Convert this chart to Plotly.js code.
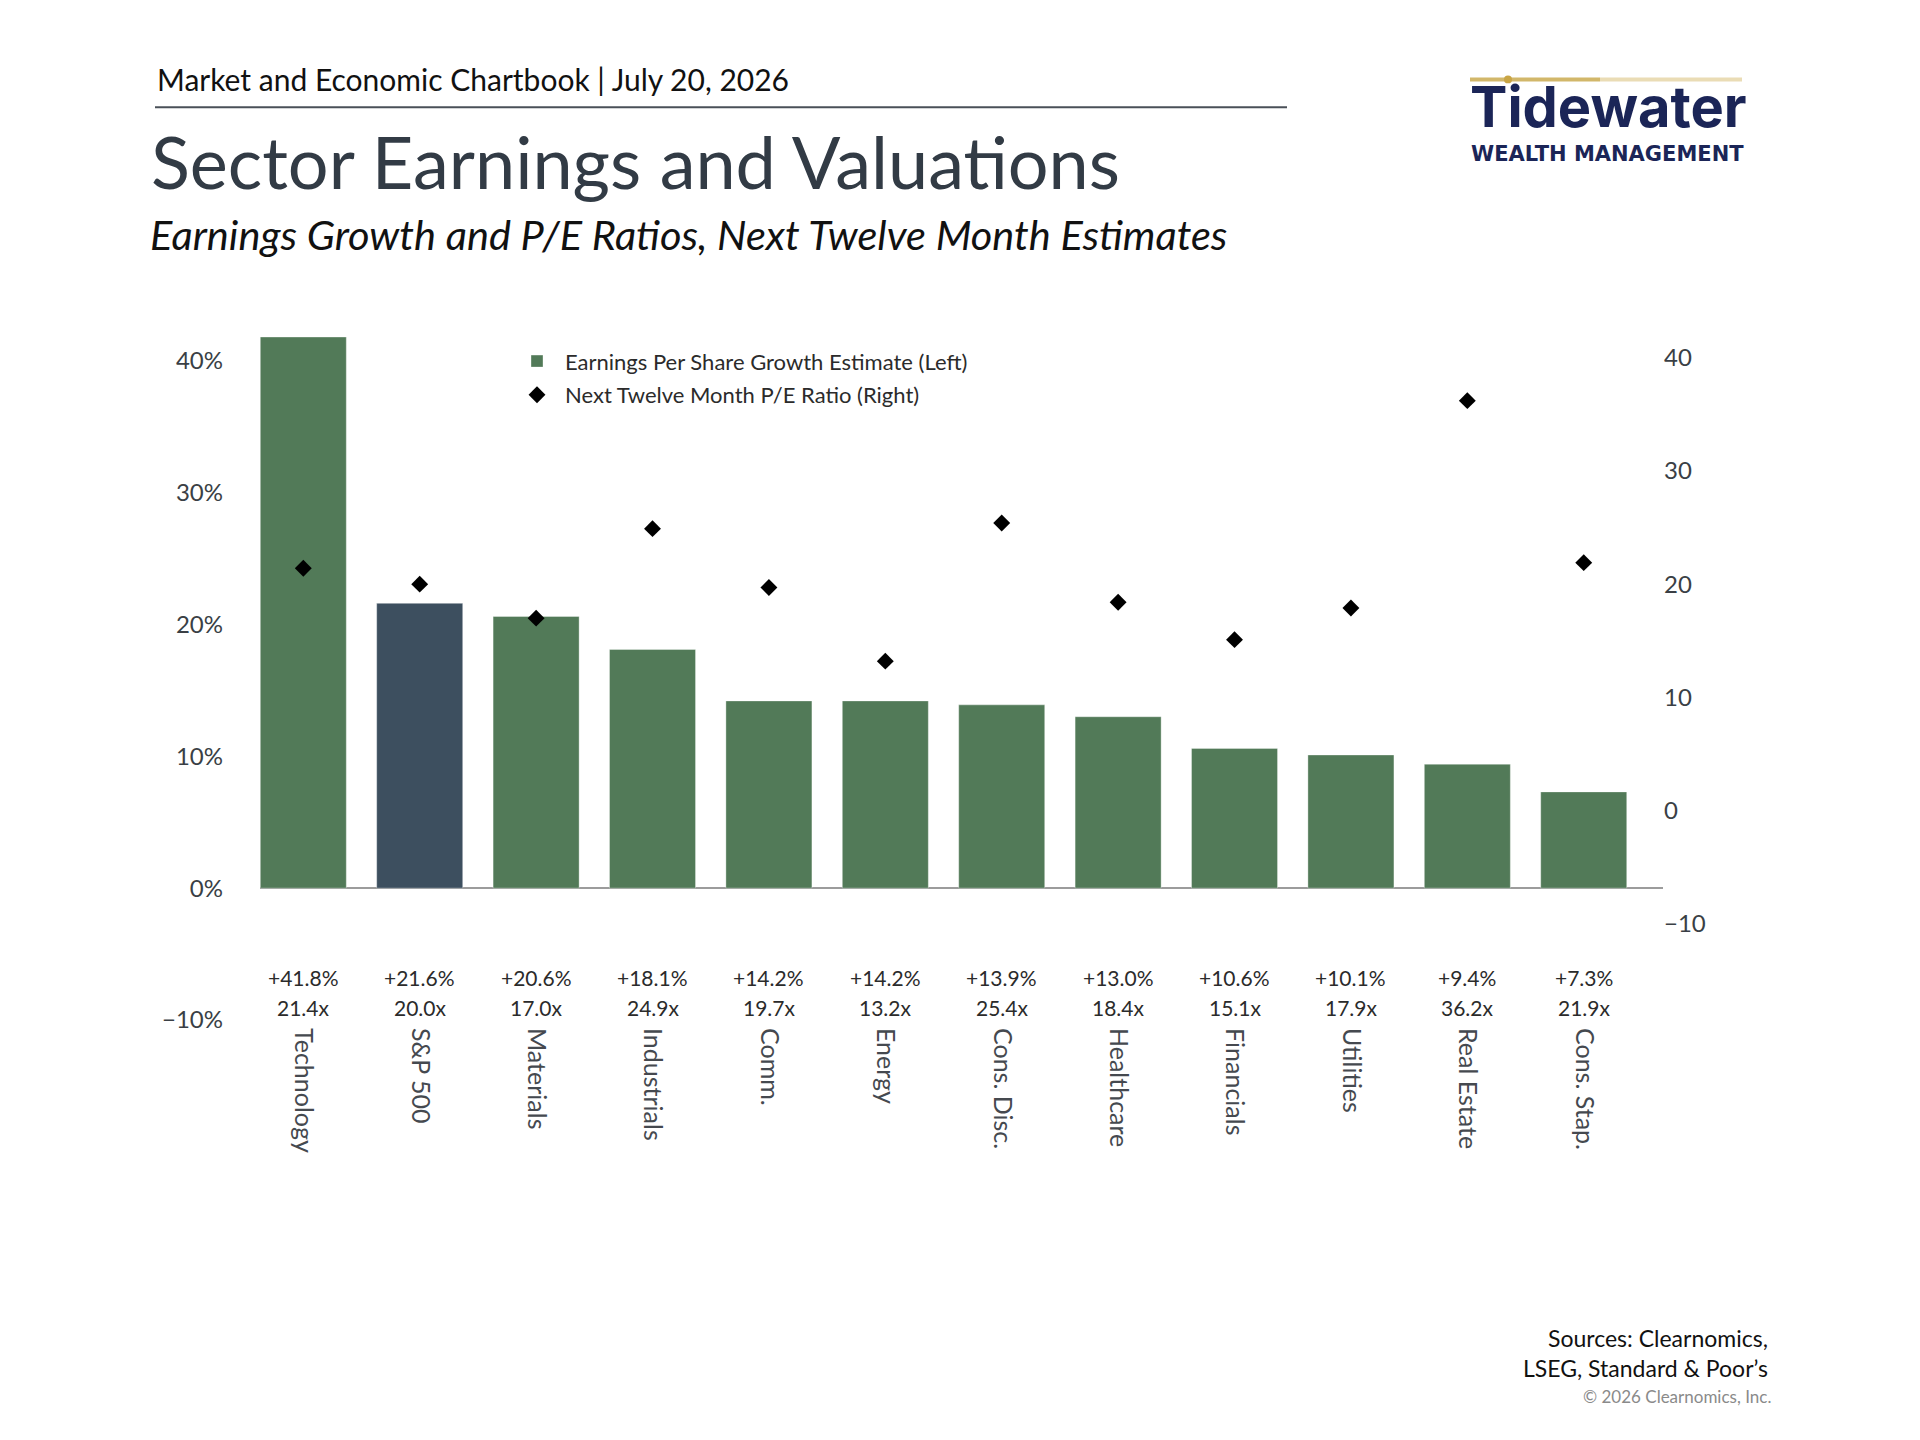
<!DOCTYPE html>
<html>
<head>
<meta charset="utf-8">
<script src="https://cdn.plot.ly/plotly-3.0.1.min.js"></script>
<style>
  html, body { margin: 0; padding: 0; background: #ffffff; }
  #chart { width: 1920px; height: 1440px; }
</style>
</head>
<body>
<div id="chart"></div>
<script>
// ---- Data ----
const categories = ["Technology", "S&P 500", "Materials", "Industrials", "Comm.", "Energy",
                    "Cons. Disc.", "Healthcare", "Financials", "Utilities", "Real Estate", "Cons. Stap."];
const epsGrowth = [41.8, 21.6, 20.6, 18.1, 14.2, 14.2, 13.9, 13.0, 10.6, 10.1, 9.4, 7.3];
const peRatio   = [21.4, 20.0, 17.0, 24.9, 19.7, 13.2, 25.4, 18.4, 15.1, 17.9, 36.2, 21.9];
const highlightCategory = "S&P 500";
const leftTicks  = [-10, 0, 10, 20, 30, 40];
const rightTicks = [-10, 0, 10, 20, 30, 40];

// ---- Layout geometry (pixels) ----
const L = 260, R = 1663, T = 337.2, B = 1020.4;
const W = R - L, H = B - T;
const px = x => (x - L) / W;
const py = y => (B - y) / H;

const GREEN = "#527a58", SLATE = "#3d4f5f";
const FONT = "Lato, 'Noto Sans', sans-serif";

const barColors = categories.map(c => c === highlightCategory ? SLATE : GREEN);

const traces = [
  {
    type: "bar",
    name: "Earnings Per Share Growth Estimate (Left)",
    x: categories,
    y: epsGrowth,
    marker: { color: barColors, line: { color: "rgba(255,255,255,0.35)", width: 1 } },
    yaxis: "y",
    legendgroup: "a",
    hoverinfo: "skip"
  },
  {
    type: "scatter",
    mode: "markers",
    name: "Next Twelve Month P/E Ratio (Right)",
    x: categories,
    y: peRatio,
    marker: { symbol: "diamond", size: 13, color: "#000000" },
    yaxis: "y2",
    legendgroup: "b",
    hoverinfo: "skip"
  }
];

const annotations = [];
categories.forEach((c, i) => {
  annotations.push({
    xref: "x", yref: "paper", x: c, y: py(978), yanchor: "middle", xanchor: "center",
    text: "+" + epsGrowth[i].toFixed(1) + "%", showarrow: false,
    font: { family: FONT, size: 21, color: "#2b2b2b" }
  });
  annotations.push({
    xref: "x", yref: "paper", x: c, y: py(1008), yanchor: "middle", xanchor: "center",
    text: peRatio[i].toFixed(1) + "x", showarrow: false,
    font: { family: FONT, size: 21, color: "#2b2b2b" }
  });
});

// Header, title, subtitle
annotations.push({
  xref: "paper", yref: "paper", x: px(155), y: py(79), xanchor: "left", yanchor: "middle",
  text: "Market and Economic Chartbook | July 20, 2026", showarrow: false,
  font: { family: FONT, size: 30, color: "#111111" }
});
annotations.push({
  xref: "paper", yref: "paper", x: px(149), y: py(161), xanchor: "left", yanchor: "middle",
  text: "Sector Earnings and Valuations", showarrow: false,
  font: { family: FONT, size: 72, color: "#323b45" }
});
annotations.push({
  xref: "paper", yref: "paper", x: px(148), y: py(234), xanchor: "left", yanchor: "middle",
  text: "<i>Earnings Growth and P/E Ratios, Next Twelve Month Estimates</i>", showarrow: false,
  font: { family: FONT, size: 41.5, color: "#111111" }
});
// Logo
annotations.push({
  xref: "paper", yref: "paper", x: px(1608), y: py(107), xanchor: "center", yanchor: "middle",
  text: "<b>Tidewater</b>", showarrow: false,
  font: { family: "Inter, 'Noto Sans', sans-serif", size: 56, color: "#1b2557" }
});
annotations.push({
  xref: "paper", yref: "paper", x: px(1607), y: py(154), xanchor: "center", yanchor: "middle",
  text: "<b>WEALTH MANAGEMENT</b>", showarrow: false,
  font: { family: "'DejaVu Sans', sans-serif", size: 21, color: "#1b2557" }
});
// Footer
annotations.push({
  xref: "paper", yref: "paper", x: px(1770), y: py(1353), xanchor: "right", yanchor: "middle",
  align: "right",
  text: "Sources: Clearnomics,<br>LSEG, Standard &amp; Poor’s", showarrow: false,
  font: { family: FONT, size: 23, color: "#111111" }
});
annotations.push({
  xref: "paper", yref: "paper", x: px(1773), y: py(1397), xanchor: "right", yanchor: "middle",
  text: "© 2026 Clearnomics, Inc.", showarrow: false,
  font: { family: FONT, size: 17, color: "#8a8a8a" }
});

const shapes = [
  { type: "line", xref: "paper", yref: "paper", x0: px(155), x1: px(1287), y0: py(107.5), y1: py(107.5),
    line: { color: "#4a5058", width: 2 } },
  { type: "line", xref: "paper", yref: "paper", x0: px(1470), x1: px(1600), y0: py(79.5), y1: py(79.5),
    line: { color: "#d2b76a", width: 4 } },
  { type: "line", xref: "paper", yref: "paper", x0: px(1600), x1: px(1742), y0: py(79.5), y1: py(79.5),
    line: { color: "#eadcb5", width: 4 } },
  { type: "circle", xref: "paper", yref: "paper", x0: px(1504), x1: px(1512), y0: py(75.5), y1: py(83.5),
    fillcolor: "#c9a545", line: { width: 0 } }
];

const layout = {
  width: 1920, height: 1440,
  paper_bgcolor: "#ffffff", plot_bgcolor: "#ffffff",
  margin: { l: L, r: 1920 - R, t: T, b: 1440 - B, pad: 0 },
  font: { family: FONT, color: "#3a3f45" },
  bargap: 0.261,
  showlegend: true,
  legend: {
    x: px(509), y: py(340.5), xanchor: "left", yanchor: "top",
    bgcolor: "rgba(0,0,0,0)", borderwidth: 0,
    font: { family: FONT, size: 22, color: "#2b2b2b" },
    itemwidth: 46,
    traceorder: "grouped", tracegroupgap: 2
  },
  xaxis: {
    type: "category",
    range: [-0.372, 11.681],
    tickangle: 90,
    showgrid: false, zeroline: false, showline: false, ticks: "",
    tickfont: { family: FONT, size: 25, color: "#45494f" },
    ticklabelstandoff: 7,
    fixedrange: true
  },
  yaxis: {
    range: [-10, 41.8],
    tickvals: leftTicks,
    ticktext: leftTicks.map(v => (v < 0 ? "\u2212" + Math.abs(v) : v) + "%"),
    showgrid: false, showline: false, ticks: "",
    zeroline: true, zerolinecolor: "#9c9c9c", zerolinewidth: 2,
    tickfont: { family: FONT, size: 24, color: "#3a3f45" },
    ticklabelstandoff: 36,
    fixedrange: true
  },
  yaxis2: {
    overlaying: "y", side: "right",
    range: [-18.48, 41.82],
    tickvals: rightTicks,
    ticktext: rightTicks.map(v => v < 0 ? "\u2212" + Math.abs(v) : String(v)),
    showgrid: false, showline: false, zeroline: false, ticks: "",
    tickfont: { family: FONT, size: 24, color: "#3a3f45" },
    fixedrange: true
  },
  annotations: annotations,
  shapes: shapes
};

Plotly.newPlot("chart", traces, layout, { displayModeBar: false, staticPlot: true });
</script>
</body>
</html>
